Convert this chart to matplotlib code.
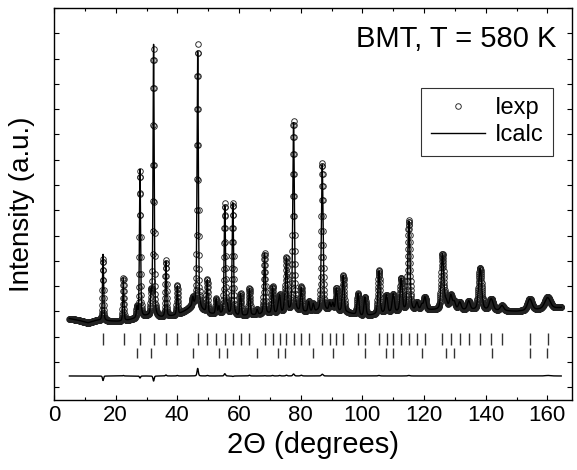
import numpy as np
import matplotlib
matplotlib.use('Agg')
import matplotlib.pyplot as plt
from matplotlib.ticker import MultipleLocator

plt.rcParams['font.family'] = ['Liberation Sans', 'DejaVu Sans']

# ---- data (2theta in degrees, intensity in arbitrary units) ----
peak_pos = [15.9, 22.5, 27.9, 32.3, 36.3, 40.0, 46.6, 49.7, 52.6, 55.4, 58.0, 60.5,
            63.4, 68.3, 70.9, 73.2, 75.4, 77.7, 80.2, 82.6, 87.0, 89.4, 91.6, 93.8,
            98.6, 100.8, 105.4, 107.9, 110.1, 112.6, 115.1, 117.7, 120.3, 126.0,
            128.7, 131.6, 134.5, 138.2, 141.6, 145.3, 154.3, 160.2]
h_obs = [2.44, 1.72, 5.77, 10.55, 2.22, 1.17, 10.45, 1.32, 0.60, 4.39, 4.43, 0.88,
         1.08, 2.41, 1.07, 0.67, 2.13, 7.58, 0.98, 0.40, 5.87, 0.30, 0.90, 1.45,
         0.85, 0.45, 1.72, 0.45, 0.45, 1.30, 3.57, 0.30, 0.50, 2.20,
         0.55, 0.30, 0.35, 1.65, 0.30, 0.20, 0.30, 0.32]
h_calc = [2.62, 1.70, 5.85, 10.75, 2.18, 1.15, 10.15, 1.30, 0.60, 4.30, 4.45, 0.88,
          1.05, 2.40, 1.05, 0.65, 2.10, 7.50, 0.95, 0.40, 5.80, 0.30, 0.90, 1.45,
          0.85, 0.45, 1.70, 0.45, 0.45, 1.30, 3.55, 0.30, 0.50, 2.20,
          0.55, 0.30, 0.35, 1.65, 0.30, 0.20, 0.30, 0.30]

phase2_pos = [26.9, 31.5, 45.0, 53.5, 56.2, 65.9, 72.7, 74.8, 84.1, 90.4, 100.9,
              107.7, 109.9, 119.3, 127.2, 129.8, 142.1, 154.3, 159.8]
phase2_h = [0.40, 0.80, 0.30, 0.30, 0.30, 0.20, 0.30, 0.40, 0.30, 0.30, 0.30,
            0.30, 0.30, 0.20, 0.30, 0.30, 0.20, 0.15, 0.15]

bkg_x = [5, 8, 11, 14, 18, 22, 26, 30, 35, 40, 43, 45, 47, 50, 55, 60, 70, 80,
         90, 95, 100, 110, 120, 130, 140, 150, 164.5]
bkg_y = [2.72, 2.65, 2.55, 2.65, 2.62, 2.60, 2.70, 2.80, 2.75, 2.85, 3.05, 3.20,
         3.10, 2.90, 2.85, 2.80, 2.90, 2.95, 3.00, 2.95, 2.80, 2.95, 3.05, 3.05,
         3.05, 3.00, 3.15]

bragg1 = [15.9, 22.6, 28.0, 32.3, 36.3, 40.0, 46.6, 49.7, 52.6, 55.4, 58.0, 60.5,
          63.4, 68.3, 70.9, 73.2, 75.4, 77.7, 80.2, 82.6, 87.0, 89.4, 91.6, 93.8,
          98.6, 100.8, 105.4, 107.9, 110.1, 112.6, 115.1, 117.7, 120.3, 126.0,
          128.7, 131.6, 134.5, 138.2, 141.6, 145.3, 154.3, 160.2]
bragg2 = [26.9, 31.5, 45.0, 53.5, 56.2, 65.9, 72.7, 74.8, 84.1, 90.4, 100.9,
          107.7, 109.9, 119.3, 127.2, 129.8, 142.1, 154.3, 159.8]

diff_offset = 0.45
step = 0.05
tt_start, tt_end = 5.0, 164.5


def fwhm(pos):
    return 0.36 + 0.3 * np.tan(np.radians(np.asarray(pos) / 2.0))


def profile(x, pos, h, eta=0.4):
    y = np.zeros_like(x)
    for p, a in zip(pos, h):
        w = fwhm(p)
        d = (x - p) / w
        y += a * (eta / (1 + 4 * d ** 2) + (1 - eta) * np.exp(-4 * np.log(2) * d ** 2))
    return y


tt = np.arange(tt_start, tt_end + step / 2, step)
bkg = np.interp(tt, bkg_x, bkg_y)
second = profile(tt, phase2_pos, phase2_h)
i_obs = bkg + second + profile(tt, peak_pos, h_obs)
i_calc = bkg + second + profile(tt, peak_pos, h_calc)
i_diff = i_obs - i_calc + diff_offset

# ---- figure ----
fig = plt.figure(figsize=(5.77, 4.70), dpi=100)
ax = fig.add_axes([54 / 577, 70 / 470, 518 / 577, 392 / 470])

ax.plot(tt, i_obs, linestyle='none', marker='o', markersize=4.0,
        markerfacecolor='none', markeredgecolor='#222222', markeredgewidth=0.65,
        label='Iexp')
ax.plot(tt, i_calc, color='black', linewidth=1.0, label='Icalc')
ax.plot(tt, i_diff, color='black', linewidth=1.0)
ax.vlines(bragg1, 1.68, 2.15, color='#333333', linewidth=1.0)
ax.vlines(bragg2, 1.16, 1.56, color='#333333', linewidth=1.0)

ax.set_xlim(0, 168)
ax.set_ylim(-0.5, 15)
ax.xaxis.set_major_locator(MultipleLocator(20))
ax.xaxis.set_minor_locator(MultipleLocator(10))
ax.yaxis.set_major_locator(MultipleLocator(1))
ax.set_yticklabels([])
ax.tick_params(which='both', direction='in', top=True, right=True, width=0.8)
ax.tick_params(which='major', length=3.5, labelsize=16)
ax.tick_params(which='minor', length=2.5)
for s in ax.spines.values():
    s.set_linewidth(1.0)

ax.set_xlabel('2\u0398 (degrees)', fontsize=21, labelpad=4)
ax.set_ylabel('Intensity (a.u.)', fontsize=20, labelpad=10)

ax.text(0.969, 0.9005, 'BMT, T = 580 K', transform=ax.transAxes,
        ha='right', va='baseline', fontsize=21)

leg = ax.legend(loc='upper right', bbox_to_anchor=(0.963, 0.796), fontsize=17,
                numpoints=1, frameon=True, fancybox=False, borderaxespad=0,
                handlelength=2.3, handletextpad=0.4, borderpad=0.4,
                labelspacing=0.2)
leg.get_frame().set_edgecolor('black')
leg.get_frame().set_linewidth(0.8)

fig.savefig('out.png', dpi=100)
